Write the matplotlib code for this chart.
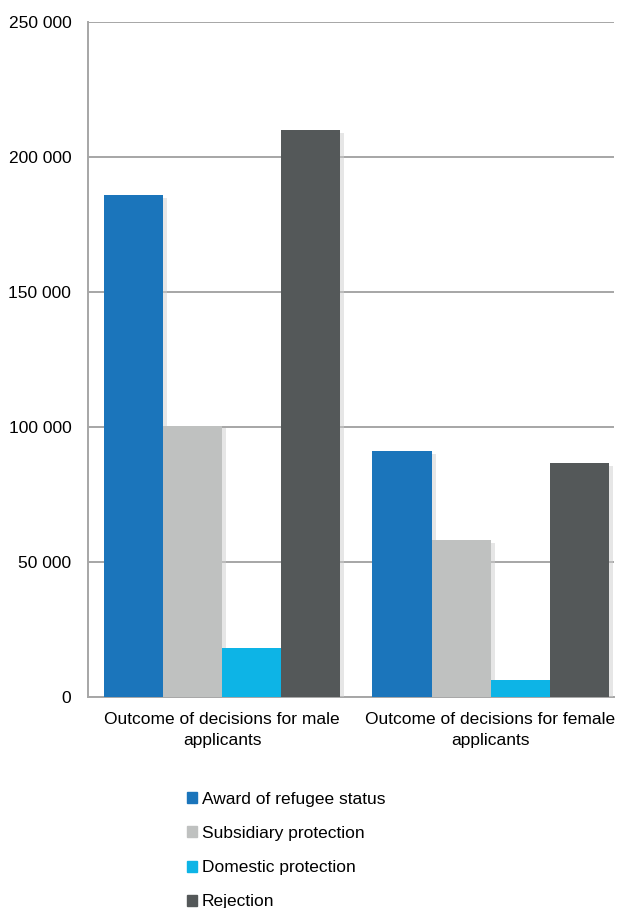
import matplotlib
matplotlib.use("Agg")
import matplotlib.pyplot as plt
import matplotlib.patheffects as pe
from matplotlib.ticker import FuncFormatter
import numpy as np

categories = ["Outcome of decisions for male\napplicants",
              "Outcome of decisions for female\napplicants"]
series_names = ["Award of refugee status", "Subsidiary protection",
                "Domestic protection", "Rejection"]
award = [186000, 91000]
subsidiary = [100500, 58000]
domestic = [18000, 6300]
rejection = [210000, 86500]
colors = ["#1B75BB", "#BFC1C0", "#0DB4E6", "#545859"]

plt.rcParams['font.family'] = ['Liberation Sans', 'DejaVu Sans']

fig = plt.figure(figsize=(6.21, 9.08), dpi=100)
ax = fig.add_axes([88/621, 1-697/908, (614-88)/621, (697-22)/908])

x = np.arange(len(categories))
w = 0.22
data = [award, subsidiary, domestic, rejection]
shadow = [pe.SimplePatchShadow(offset=(3, -2), shadow_rgbFace='#cfcfcf', alpha=0.5), pe.Normal()]
for i, (vals, name, c) in enumerate(zip(data, series_names, colors)):
    ax.bar(x + (i - 1.5) * w, vals, width=w, color=c, label=name, zorder=3,
           path_effects=shadow)

ax.set_ylim(0, 250000)
ax.set_xlim(-0.5, 1.46)
ax.set_yticks(np.arange(0, 250001, 50000))
ax.yaxis.set_major_formatter(FuncFormatter(lambda v, p: f"{int(v):,}".replace(",", " ")))
ax.grid(axis='y', color='#A6A6A6', linewidth=1.4, zorder=0)
ax.set_axisbelow(True)
for s in ['top', 'right']:
    ax.spines[s].set_visible(False)
for s in ['left', 'bottom']:
    ax.spines[s].set_color('#A6A6A6')
    ax.spines[s].set_linewidth(1.4)
ax.tick_params(axis='y', length=0, pad=12, labelsize=12.5)
ax.tick_params(axis='x', length=0, pad=11, labelsize=12.5)
ax.set_xticks(x)
ax.set_xticklabels(categories, linespacing=1.45)

handles = [plt.Rectangle((0, 0), 1, 1, color=c) for c in colors]
leg = fig.legend(handles, series_names, loc='upper left',
                 bbox_to_anchor=(187/621, 1-792/908), frameon=False,
                 fontsize=12.5, handlelength=0.6, handleheight=0.6,
                 handletextpad=0.25, labelspacing=1.1, borderaxespad=0, borderpad=0)

fig.savefig("out.png", dpi=100)
